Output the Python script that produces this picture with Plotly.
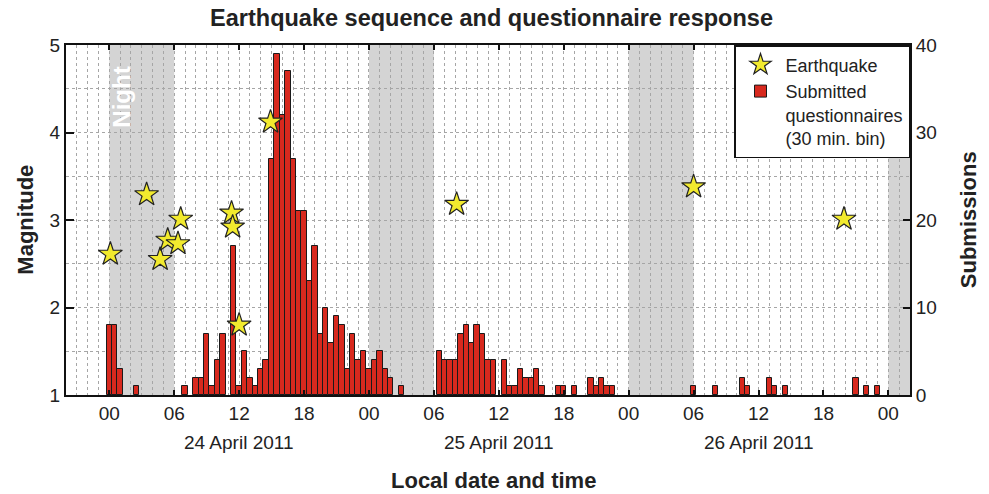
import plotly.graph_objects as go

# ---- data (hours since 24 April 2011 00:00 local) ----
bin_hours = [0.0, 0.5, 1.0, 2.5,
             7.0, 8.0, 8.5, 9.0, 9.5, 10.0, 10.5, 11.5, 12.0, 12.5, 13.0, 13.5, 14.0, 14.5,
             15.0, 15.5, 16.0, 16.5, 17.0, 17.5, 18.0, 18.5, 19.0, 19.5, 20.0, 20.5, 21.0, 21.5,
             22.0, 22.5, 23.0, 23.5, 24.0, 24.5, 25.0, 25.5, 26.0, 27.0,
             30.5, 31.0, 31.5, 32.0, 32.5, 33.0, 33.5, 34.0, 34.5, 35.0, 35.5, 36.5, 37.0, 37.5,
             38.0, 38.5, 39.0, 39.5, 40.0, 41.5, 42.0, 43.0,
             44.5, 45.0, 45.5, 46.0, 46.5,
             54.0, 56.0, 58.5, 59.0, 61.0, 61.5, 62.5, 69.0, 70.0, 71.0]
submissions = [8, 8, 3, 1,
               1, 2, 2, 7, 1, 4, 7, 17, 1, 5, 2, 1, 3, 4,
               27, 39, 32, 37, 27, 21, 21, 13, 17, 7, 10, 6, 9, 8,
               3, 7, 4, 5, 3, 4, 5, 3, 2, 1,
               5, 4, 4, 4, 7, 8, 6, 8, 7, 4, 4, 4, 1, 1,
               3, 2, 2, 3, 1, 1, 1, 1,
               2, 1, 2, 1, 1,
               1, 1, 2, 1, 2, 1, 1, 2, 1, 1]

quake_hours = [0.1, 3.45, 4.7, 5.4, 6.35, 6.6, 11.3, 11.4, 12.0, 14.9, 32.1, 54.0, 67.9]
quake_mag = [2.61, 3.29, 2.55, 2.77, 2.73, 3.01, 3.08, 2.92, 1.80, 4.12, 3.18, 3.38, 3.01]

night_start = [0, 24, 48, 72]
night_end = [6, 30, 54, 78]

tick_vals = [0, 6, 12, 18, 24, 30, 36, 42, 48, 54, 60, 66, 72]
tick_text = ["00", "06", "12", "18", "00", "06", "12", "18", "00", "06", "12", "18", "00"]
date_pos = [12, 36, 60]
date_text = ["24 April 2011", "25 April 2011", "26 April 2011"]

FONT = "Liberation Sans, Arial, Helvetica, sans-serif"
GRID = "#a6a6a6"
TXT = "#222"

fig = go.Figure()
fig.add_trace(go.Bar(
    x=bin_hours, y=submissions, width=0.5,
    marker=dict(color="#d8291e", line=dict(color="#1a1a1a", width=1)),
    name="Submitted<br>questionnaires<br>(30 min. bin)", legendrank=2,
    yaxis="y"))
fig.add_trace(go.Scatter(
    x=quake_hours, y=quake_mag, mode="markers",
    marker=dict(symbol="star", size=18, color="#f2ea2e", line=dict(color="#222", width=1.2)),
    name="Earthquake", legendrank=1, yaxis="y2"))

shapes = []
for s, e in zip(night_start, night_end):
    shapes.append(dict(type="rect", xref="x", yref="paper", x0=s, x1=e, y0=0, y1=1,
                       fillcolor="#d4d4d4", line=dict(width=0), layer="below"))

annotations = []
for p, t in zip(date_pos, date_text):
    annotations.append(dict(x=p, y=-0.136, xref="x", yref="paper", text=t, showarrow=False,
                            font=dict(family=FONT, size=19, color=TXT),
                            xanchor="center", yanchor="middle"))
annotations += [
    dict(x=0.507, y=-0.243, xref="paper", yref="paper", text="<b>Local date and time</b>",
         showarrow=False, font=dict(family=FONT, size=22, color=TXT),
         xanchor="center", yanchor="middle"),
    dict(x=-0.049, y=0.5, xref="paper", yref="paper", text="<b>Magnitude</b>", textangle=-90,
         showarrow=False, font=dict(family=FONT, size=22, color=TXT),
         xanchor="center", yanchor="middle"),
    dict(x=1.069, y=0.5, xref="paper", yref="paper", text="<b>Submissions</b>", textangle=-90,
         showarrow=False, font=dict(family=FONT, size=22, color=TXT),
         xanchor="center", yanchor="middle"),
    dict(x=1.1, y=4.4, xref="x", yref="y2", text="<b>Night</b>", textangle=-90,
         showarrow=False, font=dict(family=FONT, size=24, color="white"),
         xanchor="center", yanchor="middle"),
]

fig.update_layout(
    width=989, height=494,
    margin=dict(l=66, r=79, t=45, b=99),
    paper_bgcolor="white", plot_bgcolor="white",
    font=dict(family=FONT, size=19, color=TXT),
    title=dict(text="<b>Earthquake sequence and questionnaire response</b>",
               x=0.497, xanchor="center", y=1 - 18 / 494, yanchor="middle",
               font=dict(family=FONT, size=23.5, color=TXT)),
    bargap=0,
    showlegend=True,
    legend=dict(x=1, y=1, xanchor="right", yanchor="top", bgcolor="white",
                bordercolor="#111", borderwidth=1.5, valign="top", itemwidth=40,
                font=dict(family=FONT, size=18, color=TXT), tracegroupgap=2),
    xaxis=dict(range=[-4, 74], tickvals=tick_vals, ticktext=tick_text,
               ticks="inside", ticklen=5, tickwidth=1.5, tickcolor="#111",
               showline=True, linewidth=2, linecolor="#111", mirror="ticks",
               showgrid=True, gridcolor=GRID, griddash="dot", gridwidth=1,
               minor=dict(dtick=1, tick0=0, showgrid=True, gridcolor=GRID, griddash="dot",
                          gridwidth=1, ticks=""),
               zeroline=False, tickfont=dict(size=19)),
    yaxis=dict(range=[0, 40], side="right", dtick=10, tick0=0,
               ticks="inside", ticklen=7, tickwidth=1.5, tickcolor="#111",
               showline=True, linewidth=2, linecolor="#111", mirror="ticks",
               showgrid=True, gridcolor=GRID, griddash="dot", gridwidth=1,
               minor=dict(dtick=5, tick0=0, showgrid=True, gridcolor=GRID, griddash="dot",
                          gridwidth=1, ticks=""),
               zeroline=False, tickfont=dict(size=19)),
    yaxis2=dict(range=[1, 5], side="left", overlaying="y", dtick=1, tick0=1,
                ticks="inside", ticklen=8, tickwidth=1.5, tickcolor="#111",
                showline=True, linewidth=2, linecolor="#111",
                showgrid=False, zeroline=False, tickfont=dict(size=19)),
    shapes=shapes, annotations=annotations,
)

fig.write_html("out.html")
